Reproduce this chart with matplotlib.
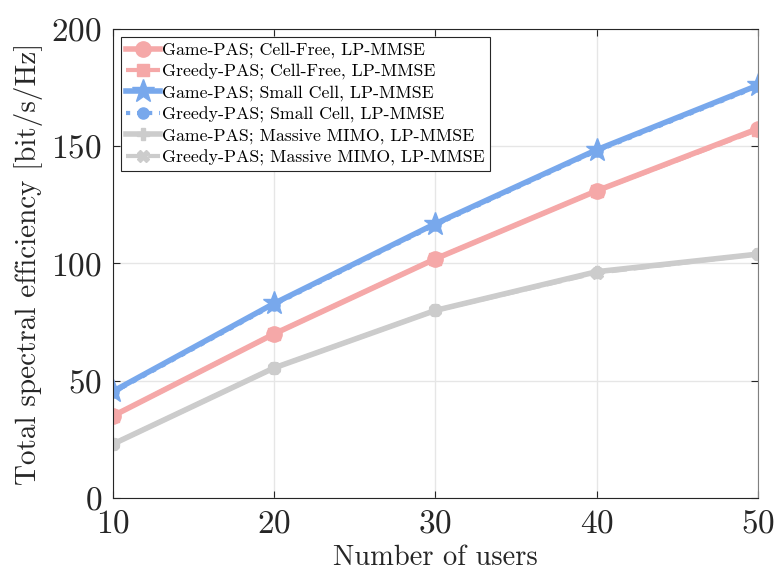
import numpy as np
import matplotlib.pyplot as plt

plt.rcParams['font.family'] = ['cmr10', 'DejaVu Serif']
plt.rcParams['mathtext.fontset'] = 'cm'
plt.rcParams['axes.formatter.use_mathtext'] = True

# number of users
users = [10, 20, 30, 40, 50]

# total spectral efficiency [bit/s/Hz]
game_cf = [35, 70, 102, 131, 157.5]
greedy_cf = [35, 70, 102, 131, 157]
game_sc = [45.5, 83, 117, 148.5, 176]
greedy_sc = [45, 82.5, 116.5, 148, 175.5]
game_mm = [23, 55.5, 80, 96.5, 104]
greedy_mm = [23, 55.5, 80, 96, 104]

pink = '#F5A8A8'
blue = '#78A8EC'
gray = '#CCCCCC'

fig = plt.figure(figsize=(7.77, 5.74), dpi=100)
ax = fig.add_axes([0.1454, 0.1324, 0.8301, 0.8171])

ax.plot(users, game_cf, '-', color=pink, lw=4, marker='o', ms=11,
        label='Game-PAS; Cell-Free, LP-MMSE')
ax.plot(users, greedy_cf, '--', color=pink, lw=3, marker='s', ms=8,
        label='Greedy-PAS; Cell-Free, LP-MMSE')
ax.plot(users, game_sc, '-', color=blue, lw=4, marker='*', ms=17,
        label='Game-PAS; Small Cell, LP-MMSE')
ax.plot(users, greedy_sc, ':', color=blue, lw=3, marker='o', ms=8,
        label='Greedy-PAS; Small Cell, LP-MMSE')
ax.plot(users, game_mm, '-', color=gray, lw=4, marker='P', ms=8,
        label='Game-PAS; Massive MIMO, LP-MMSE')
ax.plot(users, greedy_mm, '--', color=gray, lw=3, marker='X', ms=8,
        label='Greedy-PAS; Massive MIMO, LP-MMSE')

ax.set_xlim(10, 50)
ax.set_ylim(0, 200)
ax.set_xticks([10, 20, 30, 40, 50])
ax.set_yticks([0, 50, 100, 150, 200])
ax.tick_params(direction='in', top=True, right=True, labelsize=24,
               length=5, color='#262626', labelcolor='#262626', pad=8)
ax.grid(True, color='#E6E6E6', lw=1)
for s in ax.spines.values():
    s.set_color('#262626')
ax.spines['right'].set_color('#808080')

ax.set_xlabel('Number of users', fontsize=20.5, color='#262626', labelpad=5)
ax.set_ylabel('Total spectral efficiency [bit/s/Hz]', fontsize=21,
              color='#262626', labelpad=6)

leg = ax.legend(loc='upper left', fontsize=12.8, fancybox=False,
                edgecolor='#262626', framealpha=1, handlelength=1.9,
                handletextpad=0.1, labelspacing=0.3, borderpad=0.3,
                borderaxespad=0.45)
leg.get_frame().set_linewidth(0.8)

fig.savefig('out.png', dpi=100)
